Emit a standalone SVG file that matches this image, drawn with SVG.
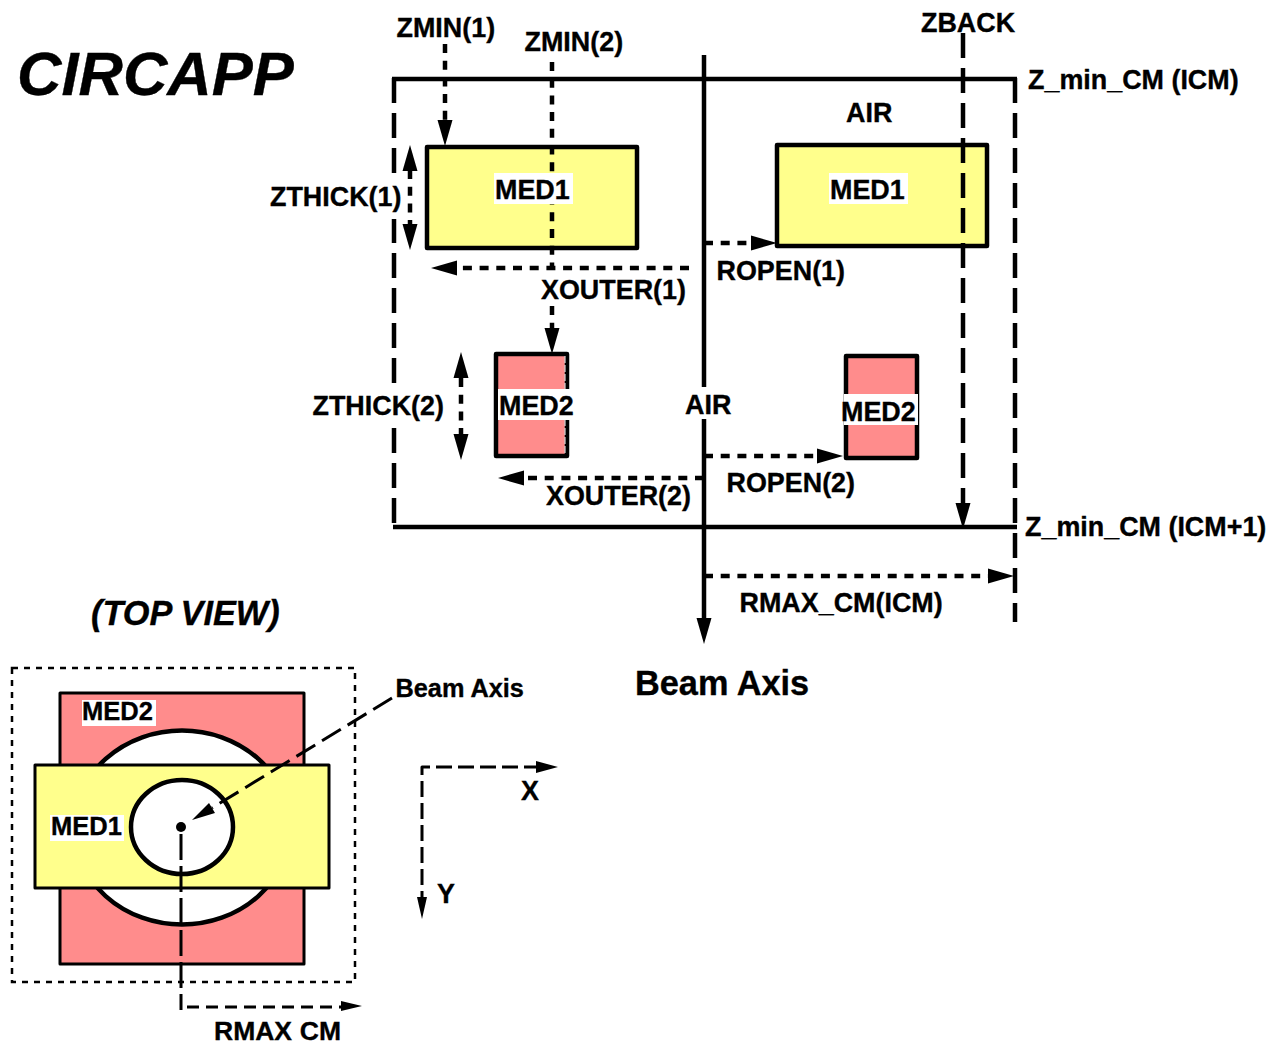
<svg xmlns="http://www.w3.org/2000/svg" width="1277" height="1044" viewBox="0 0 1277 1044">
<style>
text{font-family:"Liberation Sans",Arial,sans-serif;font-weight:700;font-size:26.900px;fill:#000;stroke:#000;stroke-width:.35;white-space:pre}
.it{font-style:italic}
.l{fill:none;stroke:#000;stroke-width:4.500}
.thin{fill:none;stroke:#000;stroke-width:3;stroke-linejoin:round}
.box{stroke:#000;stroke-width:4.500;stroke-linejoin:round}
.y{fill:#ffff8c}
.r{fill:#ff8c8c}
.dot{stroke-dasharray:9 7.700}
.dsh{stroke-dasharray:25 10}
.w{fill:#fff}
</style>
<defs>
<path id="ah" d="M0 0L-26-7.500V7.500Z"/>
</defs>
<rect width="1277" height="1044" fill="#fff"/>
<g id="title"><text class="it" x="17" y="95" style="font-size:61.500px">CIRCAPP</text>
<text class="it" x="91" y="625" style="font-size:34.300px">(TOP VIEW)</text></g>

<g id="frame">
<path class="l" d="M392 79H1017M393 527H1017"/>
<path class="l dsh" d="M394 78V527"/>
<path class="l dsh" d="M1015 78V622"/>
</g>

<g id="med1-left"><rect class="box y" x="427" y="147" width="210" height="101"/></g>
<g id="med1-right"><rect class="box y" x="777" y="145" width="210" height="101"/></g>
<g id="med2-left"><rect class="box r" x="496" y="354" width="71" height="102"/>
<path d="M565 356V454" stroke="#fff" stroke-width="1" stroke-dasharray="7 2" fill="none"/></g>
<g id="med2-right"><rect class="box r" x="846" y="356" width="71" height="102"/></g>

<g id="connectors">
<path class="l" d="M704 55V622"/>
<use href="#ah" transform="translate(704 644) rotate(90)"/>
<path class="l dot" d="M445 44V122"/><use href="#ah" transform="translate(445 146) rotate(90)"/>
<path class="l dot" d="M552 62V268M552 306V330"/><use href="#ah" transform="translate(552 354) rotate(90)"/>
<path class="l dsh" d="M963 33V505"/><use href="#ah" transform="translate(963 529) rotate(90)"/>
<path class="l dot" d="M410 170V224"/><use href="#ah" transform="translate(410 145) rotate(-90)"/><use href="#ah" transform="translate(410 250) rotate(90)"/>
<path class="l dot" d="M461 378V436"/><use href="#ah" transform="translate(461 352) rotate(-90)"/><use href="#ah" transform="translate(461 460) rotate(90)"/>
<path class="l dot" d="M689 268H455"/><use href="#ah" transform="translate(431 268) rotate(180)"/>
<path class="l dot" d="M704 478H523"/><use href="#ah" transform="translate(498 478) rotate(180)"/>
<path class="l dot" d="M704 243H752"/><use href="#ah" transform="translate(777 243)"/>
<path class="l dot" d="M704 456H818"/><use href="#ah" transform="translate(843 456)"/>
<path class="l dot" d="M704 576H988"/><use href="#ah" transform="translate(1014 576)"/>
</g>

<g id="labels">
<text x="396.500" y="37">ZMIN(1)</text>
<text x="524.500" y="51">ZMIN(2)</text>
<text x="921" y="32">ZBACK</text>
<text x="1028" y="89">Z_min_CM (ICM)</text>
<text x="1025" y="536">Z_min_CM (ICM+1)</text>
<text x="846" y="122">AIR</text>
<rect class="w" x="390" y="183" width="9" height="36"/>
<text x="270" y="206">ZTHICK(1)</text>
<rect class="w" x="390" y="385" width="9" height="35"/>
<text x="312.500" y="415">ZTHICK(2)</text>
<text x="541" y="299">XOUTER(1)</text>
<text x="546" y="505">XOUTER(2)</text>
<text x="716.500" y="280">ROPEN(1)</text>
<text x="726.500" y="492">ROPEN(2)</text>
<text x="739.500" y="612">RMAX_CM(ICM)</text>
<rect class="w" x="684" y="387" width="48" height="32"/>
<text x="685" y="414">AIR</text>
<text x="635" y="695" style="font-size:34.300px">Beam Axis</text>
</g>

<g id="med-labels">
<rect class="w" x="494" y="173" width="79" height="31"/><text x="495" y="199">MED1</text>
<rect class="w" x="829" y="173" width="79" height="31"/><text x="830" y="199">MED1</text>
<rect class="w" x="498" y="389" width="75" height="31"/><text x="499" y="415">MED2</text>
<rect class="w" x="844" y="394" width="74" height="31"/><text x="841" y="421">MED2</text>
</g>

<g id="top-view">
<rect x="12" y="668" width="343" height="314" fill="none" stroke="#000" stroke-width="2.500" stroke-dasharray="6 6"/>
<rect class="thin r" x="60" y="693" width="244" height="271"/>
<ellipse class="l w" cx="182" cy="827.500" rx="108" ry="97"/>
<rect class="thin y" x="35" y="765" width="294" height="123"/>
<ellipse class="l w" cx="182" cy="827" rx="51" ry="47"/>
<circle cx="181" cy="827" r="5"/>
<rect class="w" x="82" y="700" width="74" height="26"/><text x="82" y="720" style="font-size:25.500px">MED2</text>
<rect class="w" x="50" y="815" width="74" height="26"/><text x="51" y="835" style="font-size:25.500px">MED1</text>
</g>

<g id="top-connectors">
<path class="thin" stroke-dasharray="22 8" d="M392 698L212 808"/>
<path d="M192 820L215 813L209 803Z"/>
<path class="thin" stroke-dasharray="26 6" d="M181 834V1010"/>
<path class="thin" stroke-dasharray="12 7" d="M187 1007H342"/><path d="M362 1006L341 1001V1011Z"/>
<path class="thin" stroke-dasharray="16 6" d="M540 767H422V900"/>
<path d="M558 767L536 761V773Z"/>
<path d="M422 919L417 897H427Z"/>
</g>

<g id="top-labels">
<text x="395.500" y="697" style="font-size:25.300px">Beam Axis</text>
<text x="521" y="800">X</text>
<text x="437" y="903">Y</text>
<text x="214" y="1040" style="font-size:26.500px;word-spacing:-3.500px">RMAX  CM</text>
</g>
</svg>
